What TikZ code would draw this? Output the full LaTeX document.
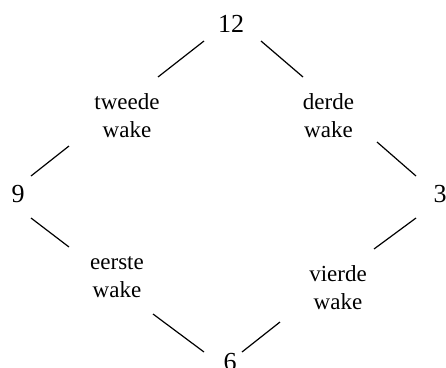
\documentclass[tikz,border=0pt]{standalone}
\usepackage{fontspec}
\setmainfont{Liberation Serif}
\usetikzlibrary{calc}
\begin{document}
\begin{tikzpicture}[x=1pt,y=-1pt,
  num/.style={anchor=base,inner sep=0pt,font=\fontsize{26}{28}\selectfont},
  lab/.style={anchor=base,inner sep=0pt,align=center,font=\fontsize{23}{28}\selectfont},
  conn/.style={line width=1.2pt}]
\useasboundingbox (0,0) rectangle (446,367);
\node[num] (n12) at (231,32) {12};
\node[num] (n9) at (18,202) {9};
\node[num] (n3) at (440,202) {3};
\node[num] (n6) at (230,370) {6};
\node[lab] (tw) at (127,137) {tweede\\wake};
\node[lab] (de) at (328.5,137) {derde\\wake};
\node[lab] (ee) at (117,297) {eerste\\wake};
\node[lab] (vi) at (338,309) {vierde\\wake};
\draw[conn] ($(n12.base)+(-27,9)$) -- ($(tw.base)+(31,-60)$);
\draw[conn] ($(n12.base)+(30,9)$) -- ($(de.base)+(-25.5,-60)$);
\draw[conn] ($(tw.base)+(-58,9)$) -- ($(n9.base)+(13,-26)$);
\draw[conn] ($(de.base)+(48.5,5)$) -- ($(n3.base)+(-24,-26)$);
\draw[conn] ($(n9.base)+(13,16)$) -- ($(ee.base)+(-48,-50)$);
\draw[conn] ($(n3.base)+(-24,16)$) -- ($(vi.base)+(36,-60)$);
\draw[conn] ($(ee.base)+(36,17)$) -- ($(n6.base)+(-26,-18)$);
\draw[conn] ($(vi.base)+(-58,13)$) -- ($(n6.base)+(12,-18)$);
\end{tikzpicture}
\end{document}
